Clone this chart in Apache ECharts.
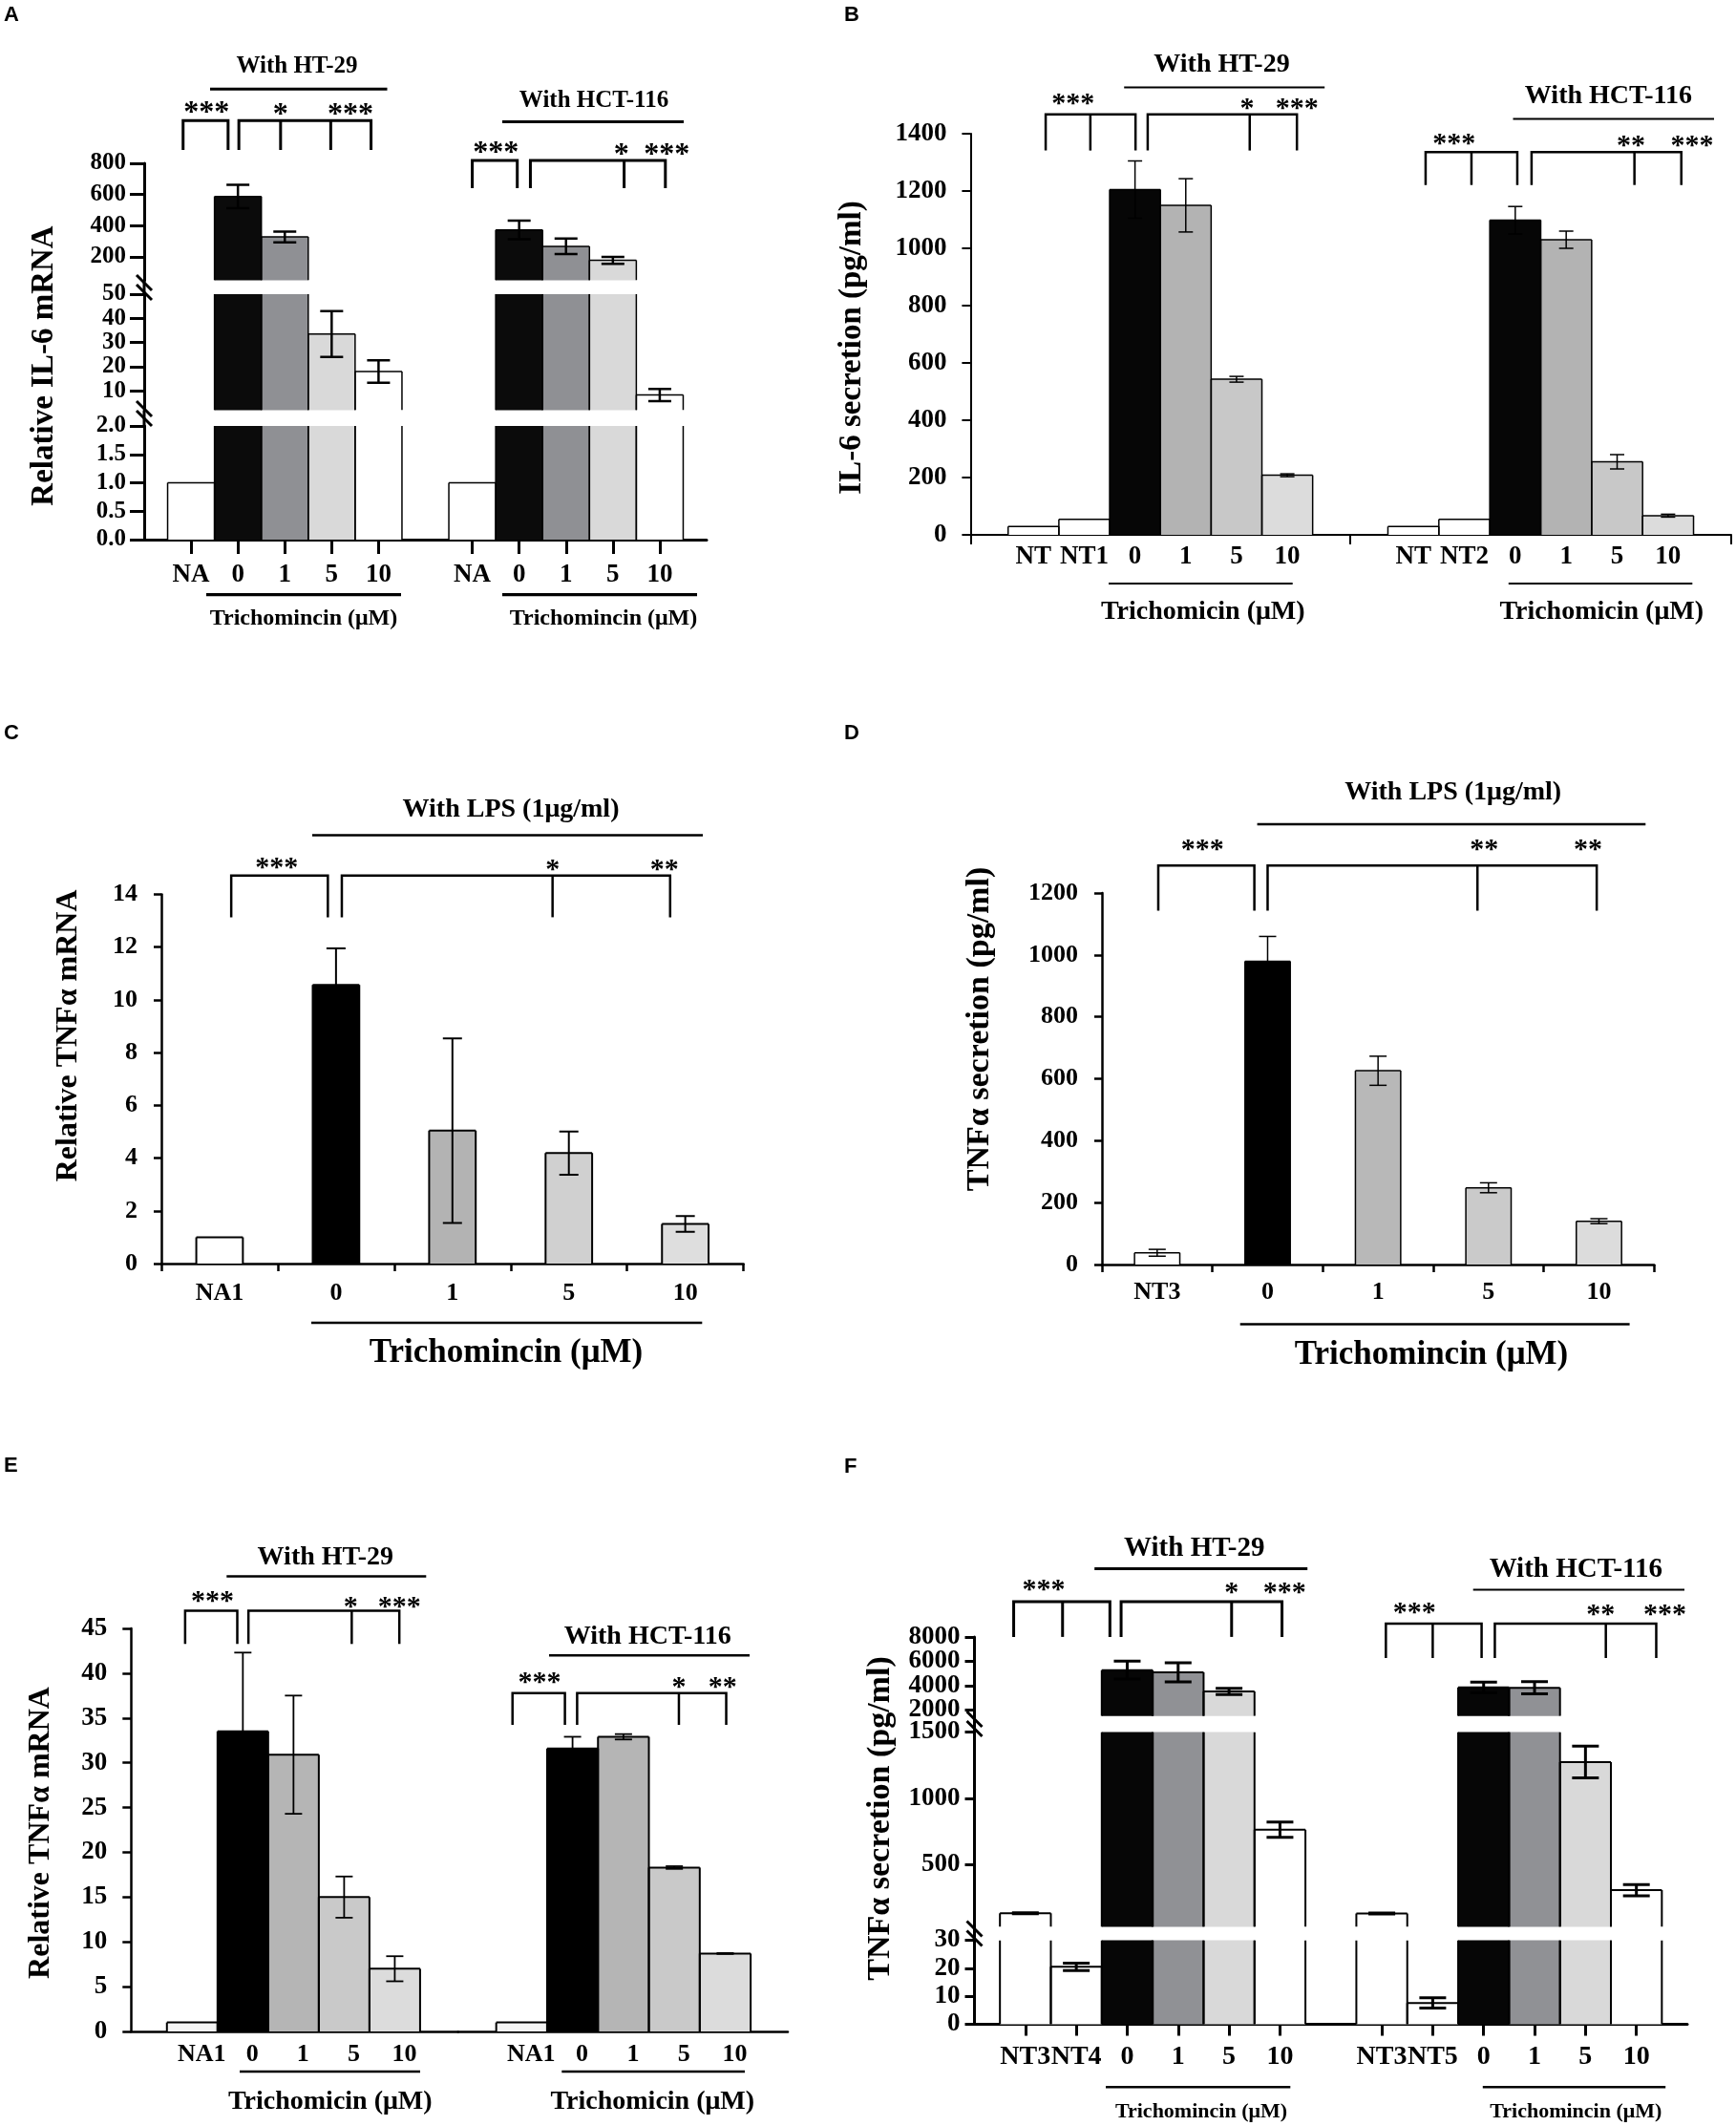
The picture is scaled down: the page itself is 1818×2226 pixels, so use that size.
<!DOCTYPE html>
<html>
<head>
<meta charset="utf-8">
<title>Trichomicin cytokine panels A-F</title>
<script src="https://cdn.jsdelivr.net/npm/echarts@6.0.0/dist/echarts.min.js"></script>
<style>
  html, body { margin: 0; padding: 0; background: #fff; }
  #main { width: 1818px; height: 2226px; }
</style>
</head>
<body>
<div id="main"></div>
<script>
// ---------- values ----------
// A: relative IL-6 mRNA (broken axis, 3 segments)
var aLabels = ['NA', '0', '1', '5', '10', '', 'NA', '0', '1', '5', '10'];
var aValues = [1.0, 587, 328, 33.5, 18, null, 1.0, 373, 268, 178, 8.3];
var aErrors = [0, 75, 35, 9.5, 4.6, null, 0, 60, 50, 22, 2.5];
var aRanges = [[0, 2], [2, 50], [50, 800]];
var aTicks = [[0, 0.5, 1, 1.5, 2], [10, 20, 30, 40, 50], [200, 400, 600, 800]];

// B: IL-6 secretion
var bLabelsL = ['NT', 'NT1', '0', '1', '5', '10'];
var bValuesL = [29, 54, 1205, 1150, 543, 208];
var bErrorsL = [0, 0, 100, 93, 10, 5];
var bLabelsR = ['NT', 'NT2', '0', '1', '5', '10'];
var bValuesR = [29, 54, 1098, 1030, 255, 67];
var bErrorsR = [0, 0, 48, 30, 25, 5];
var bRange = [0, 1400];
var bTicks = [0, 200, 400, 600, 800, 1000, 1200, 1400];

// C: relative TNFa mRNA with LPS
var cLabels = ['NA1', '0', '1', '5', '10'];
var cValues = [1.0, 10.57, 5.04, 4.19, 1.5];
var cErrors = [0, 1.38, 3.5, 0.82, 0.3];
var cRange = [0, 14];
var cTicks = [0, 2, 4, 6, 8, 10, 12, 14];

// D: TNFa secretion with LPS
var dLabels = ['NT3', '0', '1', '5', '10'];
var dValues = [38, 980, 626, 248, 140];
var dErrors = [11, 80, 47, 16, 8];
var dRange = [0, 1200];
var dTicks = [0, 200, 400, 600, 800, 1000, 1200];

// E: relative TNFa mRNA with cell lines
var eLabelsL = ['NA1', '0', '1', '5', '10'];
var eValuesL = [1.0, 33.5, 30.9, 15.0, 7.0];
var eErrorsL = [0, 8.8, 6.6, 2.3, 1.4];
var eLabelsR = ['NA1', '0', '1', '5', '10'];
var eValuesR = [1.0, 31.6, 32.9, 18.3, 8.7];
var eErrorsR = [0, 1.3, 0.3, 0.15, 0.05];
var eRange = [0, 45];
var eTicks = [0, 5, 10, 15, 20, 25, 30, 35, 40, 45];

// F: TNFa secretion with cell lines (broken axis, 3 segments)
var fLabels = ['NT3', 'NT4', '0', '1', '5', '10', '', 'NT3', 'NT5', '0', '1', '5', '10'];
var fValues = [133, 20.5, 5273, 5090, 3527, 763, null, 132, 7.6, 3855, 3818, 1273, 307];
var fErrors = [4, 1.3, 730, 780, 255, 57, null, 4, 1.8, 435, 500, 120, 42];
var fRanges = [[0, 30], [30, 1500], [1500, 8000]];
var fTicks = [[0, 10, 20, 30], [500, 1000, 1500], [2000, 4000, 6000, 8000]];

// ---------- bar fills (style) ----------
var fillA = ['#ffffff', '#0b0b0b', '#8f9094', '#d9d9d9', '#ffffff', '', '#ffffff', '#0b0b0b', '#8f9094', '#d9d9d9', '#ffffff'];
var fillB = ['#ffffff', '#ffffff', '#060606', '#b3b3b3', '#c8c8c8', '#dcdcdc'];
var fillC = ['#ffffff', '#000000', '#b3b3b3', '#d0d0d0', '#dedede'];
var fillD = ['#ffffff', '#000000', '#b8b8b8', '#cacaca', '#dcdcdc'];
var fillE = ['#f4f4f4', '#000000', '#b5b5b5', '#c9c9c9', '#dcdcdc'];
var fillF = ['#ffffff', '#ffffff', '#060606', '#909195', '#d9d9d9', '#ffffff', '', '#ffffff', '#ffffff', '#060606', '#909195', '#d9d9d9', '#ffffff'];

var SERIF = '"Liberation Serif", "Times New Roman", serif';
var SANS = '"Liberation Sans", Arial, sans-serif';

// ---------- panel layout (pixels) ----------
var panels = [{
  letter: 'A', lx: 4, ly: 16, axisX: 151,
  axisW: 3, yTickLen: 15, xTickLen: 15, xTicks: 'center', barBorder: 1.5, barFill: 1,
  errW: 2.5, errCap: 24, yLabelSize: 25, yLabelMargin: 19, xLabelSize: 27, xLabelMargin: 26, xLabelShift: 0,
  segments: [
    { top: 446, bottom: 565, range: aRanges[0], ticks: aTicks[0], dec: 1 },
    { top: 308, bottom: 429.5, range: aRanges[1], ticks: aTicks[1], split: true },
    { top: 171, bottom: 293.5, range: aRanges[2], ticks: aTicks[2] }
  ],
  groups: [{ left: 151, right: 740, min: -1, max: 11, labels: aLabels, values: aValues, errors: aErrors, fills: fillA }],
  yName: { text: 'Relative IL-6 mRNA', x: 46, y: 383, size: 33 },
  headers: [
    { text: 'With HT-29', x: 311, y: 70, size: 25, line: [220, 405.5, 93.3, 3] },
    { text: 'With HCT-116', x: 622, y: 105.6, size: 25, line: [526, 716, 127.6, 3] }
  ],
  starSize: 32,
  brackets: [
    { g: 0, top: 126.3, bottom: 157, w: 3, spans: [[-0.17, 0.79, []], [1.02, 3.84, [1.91, 2.98]]],
      stars: [[0.33, 112, '***'], [1.91, 114, '*'], [3.4, 114, '***']] },
    { g: 0, top: 168, bottom: 197, w: 3, spans: [[6.0, 6.96, []], [7.24, 10.12, [9.24]]],
      stars: [[6.5, 154, '***'], [9.18, 156, '*'], [10.15, 156, '***']] }
  ],
  trich: [
    { text: 'Trichomincin (μM)', x: 318, y: 648, size: 24, line: [216, 420, 622.7, 3.3] },
    { text: 'Trichomincin (μM)', x: 632, y: 648, size: 24, line: [526, 730, 622.7, 3.3] }
  ],
  breaks: [301, 433]
}, {
  letter: 'B', lx: 884, ly: 16, axisX: 1016.4,
  axisW: 2, yTickLen: 9, xTickLen: 10, xTicks: 'edges', barBorder: 1.5, barFill: 1,
  errW: 1.5, errCap: 15, yLabelSize: 27, yLabelMargin: 25, xLabelSize: 27, xLabelMargin: 12, xLabelShift: 0,
  segments: [{ top: 140, bottom: 560, range: bRange, ticks: bTicks }],
  groups: [
    { left: 1016.4, right: 1414, min: -1.24, max: 6.24, labels: bLabelsL, values: bValuesL, errors: bErrorsL, fills: fillB },
    { left: 1414, right: 1813, min: -1.24, max: 6.24, labels: bLabelsR, values: bValuesR, errors: bErrorsR, fills: fillB }
  ],
  yName: { text: 'IL-6 secretion (pg/ml)', x: 892, y: 364, size: 33 },
  headers: [
    { text: 'With HT-29', x: 1279.5, y: 68.2, size: 28, line: [1177.2, 1387.2, 91.5, 2] },
    { text: 'With HCT-116', x: 1684.4, y: 100.4, size: 28, line: [1584.5, 1795, 124.6, 2] }
  ],
  starSize: 30,
  brackets: [
    { g: 0, top: 119.7, bottom: 157.6, w: 2.5, spans: [[0.24, 2.01, [1.12]], [2.25, 5.19, [4.26]]],
      stars: [[0.78, 103.4, '***'], [4.21, 107.8, '*'], [5.19, 107.8, '***']] },
    { g: 1, top: 159.3, bottom: 193.7, w: 2.5, spans: [[0.24, 2.04, [1.14]], [2.32, 5.26, [4.34]]],
      stars: [[0.8, 145.2, '***'], [4.27, 147.4, '**'], [5.47, 147.4, '***']] }
  ],
  trich: [
    { text: 'Trichomicin (μM)', x: 1259.8, y: 640.4, size: 28, line: [1161, 1353.7, 611, 2] },
    { text: 'Trichomicin (μM)', x: 1677.2, y: 640.4, size: 28, line: [1579.8, 1772.3, 611, 2] }
  ]
}, {
  letter: 'C', lx: 4, ly: 768, axisX: 169,
  axisW: 2.5, yTickLen: 8, xTickLen: 8, xTicks: 'between', barBorder: 2, barFill: 0.4,
  errW: 2, errCap: 20, yLabelSize: 26, yLabelMargin: 25, xLabelSize: 26, xLabelMargin: 21, xLabelShift: 0,
  segments: [{ top: 936.5, bottom: 1323, range: cRange, ticks: cTicks }],
  groups: [{ left: 169, right: 778.6, min: -0.5, max: 4.5, labels: cLabels, values: cValues, errors: cErrors, fills: fillC }],
  yName: { text: 'Relative TNFα mRNA', x: 72, y: 1084.4, size: 32 },
  headers: [{ text: 'With LPS (1μg/ml)', x: 535, y: 848, size: 28, line: [327, 736, 874.5, 2.5] }],
  starSize: 30,
  brackets: [
    { g: 0, top: 916.8, bottom: 960.4, w: 2.5, spans: [[0.1, 0.93, []], [1.05, 3.87, [2.86]]],
      stars: [[0.49, 903, '***'], [2.86, 905, '*'], [3.82, 905, '**']] }
  ],
  trich: [{ text: 'Trichomincin (μM)', x: 530, y: 1417, size: 35, line: [326, 735.3, 1385, 2.5] }]
}, {
  letter: 'D', lx: 884, ly: 768, axisX: 1154,
  axisW: 2.5, yTickLen: 8, xTickLen: 8, xTicks: 'between', barBorder: 1.5, barFill: 0.41,
  errW: 1.5, errCap: 18, yLabelSize: 26, yLabelMargin: 25, xLabelSize: 26, xLabelMargin: 19, xLabelShift: 0,
  segments: [{ top: 935.1, bottom: 1324, range: dRange, ticks: dTicks }],
  groups: [{ left: 1154, right: 1732.3, min: -0.5, max: 4.5, labels: dLabels, values: dValues, errors: dErrors, fills: fillD }],
  yName: { text: 'TNFα secretion (pg/ml)', x: 1026.5, y: 1077.5, size: 34 },
  headers: [{ text: 'With LPS (1μg/ml)', x: 1521.7, y: 829.5, size: 28, line: [1316.6, 1723.3, 863, 2.5] }],
  starSize: 30,
  brackets: [
    { g: 0, top: 906.2, bottom: 953.5, w: 2.5, spans: [[0.01, 0.88, []], [1.0, 3.98, [2.9]]],
      stars: [[0.41, 884.6, '***'], [2.96, 884.6, '**'], [3.9, 884.6, '**']] }
  ],
  trich: [{ text: 'Trichomincin (μM)', x: 1499, y: 1418.6, size: 35, line: [1298.7, 1706.6, 1386.5, 2.5] }]
}, {
  letter: 'E', lx: 4, ly: 1535, axisX: 137.3,
  axisW: 2.5, yTickLen: 9, xTickLen: 0, xTicks: 'none', barBorder: 2, barFill: 1,
  errW: 1.8, errCap: 18, yLabelSize: 27, yLabelMargin: 25, xLabelSize: 26, xLabelMargin: 14, xLabelShift: 10,
  segments: [{ top: 1705, bottom: 2127, range: eRange, ticks: eTicks }],
  groups: [
    { left: 137.3, right: 479.7, min: -1.207, max: 5.25, labels: eLabelsL, values: eValuesL, errors: eErrorsL, fills: fillE },
    { left: 479.7, right: 825, min: -1.25, max: 5.23, labels: eLabelsR, values: eValuesR, errors: eErrorsR, fills: fillE }
  ],
  yName: { text: 'Relative TNFα mRNA', x: 42.3, y: 1919, size: 32 },
  headers: [
    { text: 'With HT-29', x: 340.8, y: 1631, size: 28, line: [237.3, 446.3, 1650.5, 2.5] },
    { text: 'With HCT-116', x: 678.3, y: 1713.3, size: 28, line: [575, 785, 1733.3, 2.5] }
  ],
  starSize: 30,
  brackets: [
    { g: 0, top: 1686.6, bottom: 1721.3, w: 2.5, spans: [[-0.14, 0.89, []], [1.11, 4.09, [3.15]]],
      stars: [[0.4, 1671.3, '***'], [3.13, 1677.3, '*'], [4.09, 1677.3, '***']] },
    { g: 1, top: 1772.7, bottom: 1806, w: 2.5, spans: [[-0.18, 0.85, []], [1.09, 4.02, [3.09]]],
      stars: [[0.35, 1756, '***'], [3.09, 1761.7, '*'], [3.95, 1761.7, '**']] }
  ],
  trich: [
    { text: 'Trichomicin (μM)', x: 345.8, y: 2201, size: 28, line: [251, 440, 2169, 2.5] },
    { text: 'Trichomicin (μM)', x: 683.3, y: 2201, size: 28, line: [588.3, 780, 2169, 2.5] }
  ]
}, {
  letter: 'F', lx: 884, ly: 1536, axisX: 1020.5,
  axisW: 3, yTickLen: 10, xTickLen: 12, xTicks: 'center', barBorder: 2, barFill: 1,
  errW: 3, errCap: 28, yLabelSize: 27, yLabelMargin: 15, xLabelSize: 28, xLabelMargin: 23, xLabelShift: 0,
  segments: [
    { top: 2031.5, bottom: 2119.4, range: fRanges[0], ticks: fTicks[0] },
    { top: 1813.4, bottom: 2017.6, range: fRanges[1], ticks: fTicks[1] },
    { top: 1713.9, bottom: 1796.8, range: fRanges[2], ticks: fTicks[2], split: true }
  ],
  groups: [{ left: 1020.5, right: 1767, min: -1, max: 13, labels: fLabels, values: fValues, errors: fErrors, fills: fillF }],
  yName: { text: 'TNFα secretion (pg/ml)', x: 921.9, y: 1904, size: 34 },
  headers: [
    { text: 'With HT-29', x: 1250.8, y: 1621.3, size: 29, line: [1146.2, 1369.2, 1642.6, 3] },
    { text: 'With HCT-116', x: 1650.3, y: 1643.5, size: 29, line: [1542.7, 1764, 1664.4, 2] }
  ],
  starSize: 30,
  brackets: [
    { g: 0, top: 1676.9, bottom: 1713.9, w: 3, spans: [[-0.23, 1.66, [0.73]], [1.88, 5.04, [4.05]]],
      stars: [[0.36, 1659.7, '***'], [4.05, 1662, '*'], [5.09, 1662, '***']] },
    { g: 0, top: 1700, bottom: 1736, w: 2.5, spans: [[7.08, 8.96, [8.0]], [9.22, 12.39, [11.4]]],
      stars: [[7.64, 1682.9, '***'], [11.3, 1685, '**'], [12.56, 1685, '***']] }
  ],
  trich: [
    { text: 'Trichomincin (μM)', x: 1258, y: 2211, size: 22, line: [1158, 1351.3, 2185.2, 2.5] },
    { text: 'Trichomincin (μM)', x: 1650.3, y: 2211, size: 22, line: [1552.8, 1744.2, 2185.2, 2.5] }
  ],
  breaks: [1805, 2024.5]
}];

// ---------- build grids / axes / series ----------
var chart = echarts.init(document.getElementById('main'));
var grids = [], xAxes = [], yAxes = [], series = [];

function fontOpt(size) {
  return { color: '#000', fontFamily: SERIF, fontWeight: 'bold', fontSize: size, lineHeight: Math.round(size * 0.8) };
}

// bar outline (open where the axis is broken) + error bar, kept inside the segment range
function overlaySeries(p, id, yi, g, s, barW) {
  var data = [];
  g.values.forEach(function (v, i) {
    if (v != null) data.push([i, v, g.errors[i] || 0]);
  });
  var lo0 = s.range[0], hi0 = s.range[1];
  return {
    type: 'custom', xAxisIndex: id, yAxisIndex: yi, clip: true, silent: true, z: 5,
    encode: { x: 0, y: 1 },
    data: data,
    renderItem: function (params, api) {
      var x = api.value(0), v = api.value(1), e = api.value(2);
      var hw = barW / 2, h = p.errCap / 2;
      var kids = [];
      function seg(x1, y1, x2, y2, w) {
        return { type: 'line', shape: { x1: x1, y1: y1, x2: x2, y2: y2 }, style: { stroke: '#000', lineWidth: w } };
      }
      if (v > lo0) {
        var t = api.coord([x, Math.min(v, hi0)]), b = api.coord([x, Math.max(0, lo0)]);
        kids.push(seg(t[0] - hw, b[1], t[0] - hw, t[1], p.barBorder));
        kids.push(seg(t[0] + hw, b[1], t[0] + hw, t[1], p.barBorder));
        if (v <= hi0) kids.push(seg(t[0] - hw, t[1], t[0] + hw, t[1], p.barBorder));
      }
      if (e > 0) {
        var a = Math.max(v - e, lo0), c = Math.min(v + e, hi0);
        if (c > a) {
          var pa = api.coord([x, a]), pc = api.coord([x, c]);
          kids.push(seg(pa[0], pa[1], pc[0], pc[1], p.errW));
        }
        [v + e, v - e].forEach(function (cv) {
          if (cv >= lo0 && cv <= hi0) {
            var pt = api.coord([x, cv]);
            kids.push(seg(pt[0] - h, pt[1], pt[0] + h, pt[1], p.errW));
          }
        });
      }
      return { type: 'group', children: kids };
    }
  };
}

function yLabelOpt(p, s, values) {
  return Object.assign({
    customValues: values, interval: 0, margin: p.yLabelMargin, showMinLabel: true, showMaxLabel: true, hideOverlap: false,
    formatter: function (v) { return s.dec ? v.toFixed(s.dec) : String(v); }
  }, fontOpt(p.yLabelSize));
}

panels.forEach(function (p) {
  p.groups.forEach(function (g, gi) {
    g.gridIds = [];
    var slot = (g.right - g.left) / (g.max - g.min);
    var barW = slot * p.barFill;
    var centers = [];
    g.labels.forEach(function (l, i) { if (l !== '') centers.push(i); });
    var tickVals = [];
    if (p.xTicks === 'center') tickVals = centers;
    else if (p.xTicks === 'edges') tickVals = [g.min, g.max];
    else if (p.xTicks === 'between') {
      for (var k = 0; k <= g.labels.length; k++) tickVals.push(k - 0.5);
    }
    var lineStyle = { color: '#000', width: p.axisW };

    p.segments.forEach(function (s, si) {
      var id = grids.length;
      g.gridIds.push(id);
      grids.push({
        left: g.left, top: s.top, width: g.right - g.left, height: s.bottom - s.top,
        containLabel: false, outerBoundsMode: 'none'
      });
      var xLab = fontOpt(p.xLabelSize);
      xLab.rich = { s: { fontFamily: SERIF, fontWeight: 'bold', fontSize: p.xLabelSize, color: '#000',
                         padding: [0, 0, 0, 2 * p.xLabelShift] } };
      xAxes.push({
        gridIndex: id, type: 'value', min: g.min, max: g.max, show: si === 0,
        axisLine: { show: true, onZero: false, lineStyle: lineStyle },
        axisTick: { show: tickVals.length > 0, customValues: tickVals, interval: 0, length: p.xTickLen, lineStyle: lineStyle },
        axisLabel: Object.assign(xLab, {
          customValues: centers, interval: 0, margin: p.xLabelMargin, showMinLabel: true, showMaxLabel: true, hideOverlap: false,
          formatter: function (v) {
            var l = g.labels[Math.round(v)];
            return p.xLabelShift ? '{s|' + l + '}' : l;
          }
        }),
        splitLine: { show: false }
      });
      // crowded segments: alternate labels go on a second, line-less axis so none get dropped
      var mainLabels = s.ticks, extraLabels = null;
      if (s.split) {
        mainLabels = s.ticks.filter(function (t, i) { return i % 2 === 0; });
        extraLabels = s.ticks.filter(function (t, i) { return i % 2 === 1; });
      }
      var yi = yAxes.length;
      yAxes.push({
        gridIndex: id, type: 'value', min: s.range[0], max: s.range[1], show: gi === 0,
        axisLine: { show: true, onZero: false, lineStyle: lineStyle },
        axisTick: { show: true, customValues: s.ticks, interval: 0, length: p.yTickLen, lineStyle: lineStyle },
        axisLabel: yLabelOpt(p, s, mainLabels),
        splitLine: { show: false }
      });
      if (extraLabels && gi === 0) {
        yAxes.push({
          gridIndex: id, type: 'value', min: s.range[0], max: s.range[1], position: 'left', offset: 0,
          axisLine: { show: false, onZero: false }, axisTick: { show: false },
          axisLabel: yLabelOpt(p, s, extraLabels),
          splitLine: { show: false }
        });
      }
      var bars = [];
      g.values.forEach(function (v, i) {
        if (v == null) return;
        bars.push({ value: [i, v], itemStyle: { color: g.fills[i], borderWidth: 0 } });
      });
      series.push({
        type: 'bar', xAxisIndex: id, yAxisIndex: yi, clip: true, silent: true,
        barWidth: barW, data: bars
      });
      series.push(overlaySeries(p, id, yi, g, s, barW));
    });
  });
});

chart.setOption({
  animation: false,
  backgroundColor: '#fff',
  grid: grids, xAxis: xAxes, yAxis: yAxes, series: series
});

// ---------- annotations: headers, brackets, stars, titles ----------
function txt(str, x, y, font, align, rot) {
  return {
    type: 'text', x: x, y: y, rotation: rot || 0, z: 100, silent: true,
    style: { text: str, font: font, fill: '#000', textAlign: align || 'center', textVerticalAlign: 'middle',
             align: align || 'center', verticalAlign: 'middle' }
  };
}
function ln(x1, y1, x2, y2, w) {
  return { type: 'line', z: 100, silent: true, shape: { x1: x1, y1: y1, x2: x2, y2: y2 }, style: { stroke: '#000', lineWidth: w } };
}
function poly(pts, w) {
  return { type: 'polyline', z: 100, silent: true, shape: { points: pts }, style: { stroke: '#000', fill: null, lineWidth: w } };
}

var els = [];
panels.forEach(function (p) {
  els.push(txt(p.letter, p.lx, p.ly, 'bold 22px ' + SANS, 'left'));
  els.push(txt(p.yName.text, p.yName.x, p.yName.y, 'bold ' + p.yName.size + 'px ' + SERIF, 'center', Math.PI / 2));
  p.headers.concat(p.trich).forEach(function (h) {
    els.push(txt(h.text, h.x, h.y, 'bold ' + h.size + 'px ' + SERIF));
    els.push(ln(h.line[0], h.line[2], h.line[1], h.line[2], h.line[3]));
  });
  p.brackets.forEach(function (b) {
    var g = p.groups[b.g];
    var gid = g.gridIds[0];
    var ymin = p.segments[0].range[0];
    function xp(u) { return chart.convertToPixel({ gridIndex: gid }, [u, ymin])[0]; }
    b.spans.forEach(function (sp) {
      var xa = xp(sp[0]), xb = xp(sp[1]);
      els.push(poly([[xa, b.bottom], [xa, b.top], [xb, b.top], [xb, b.bottom]], b.w));
      sp[2].forEach(function (d) { var xd = xp(d); els.push(ln(xd, b.top, xd, b.bottom, b.w)); });
    });
    b.stars.forEach(function (st) {
      els.push(txt(st[2], xp(st[0]), st[1] + 0.2 * p.starSize, 'bold ' + p.starSize + 'px ' + SERIF));
    });
  });
  // broken axis: keep the axis line through the gaps and draw the break marks
  if (p.breaks) {
    for (var i = 0; i < p.segments.length - 1; i++) {
      els.push(ln(p.axisX, p.segments[i].top, p.axisX, p.segments[i + 1].bottom, p.axisW));
    }
    p.breaks.forEach(function (y) {
      [-5, 5].forEach(function (d) {
        els.push(ln(p.axisX - 8, y + d - 8, p.axisX + 8, y + d + 8, 3));
      });
    });
  }
});

chart.setOption({ graphic: els });
</script>
</body>
</html>
